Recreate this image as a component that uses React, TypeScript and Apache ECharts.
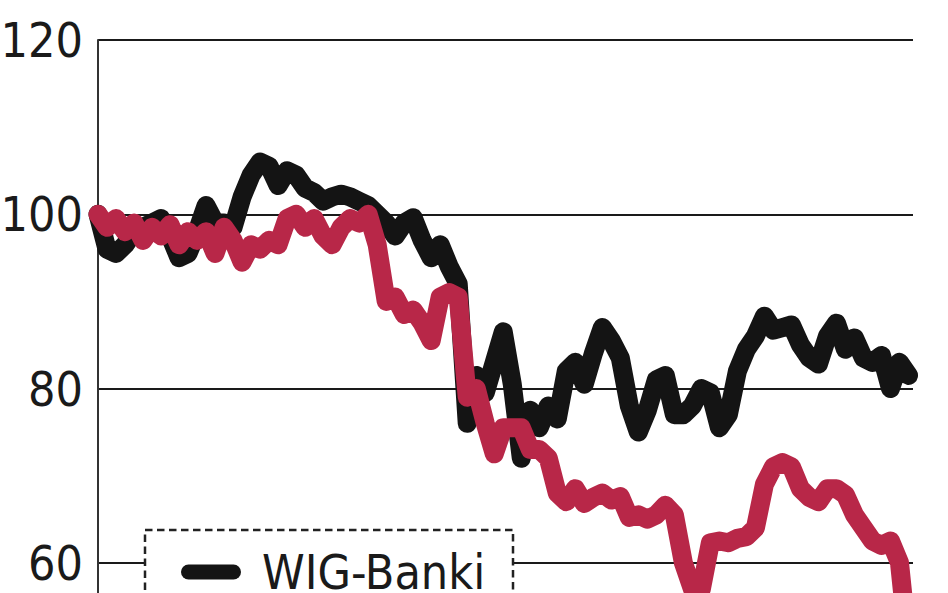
import React, { useEffect, useRef } from "react";
import * as echarts from "echarts";

const yTicks = [40, 60, 80, 100, 120];

const wigBanki = [
  100, 96, 95.5, 96.5, 98, 98.5, 99, 99.5, 97.5, 95,
  95.5, 98, 101, 99, 99, 98.5, 102, 104.5, 106, 105.5,
  103.3, 105, 104.5, 103, 102.5, 101.5, 102, 102.3, 102, 101.5,
  101, 100, 99, 97.5, 99, 99.6, 97, 95, 96.5, 94,
  92, 76, 81.5, 79.5, 83, 86.5, 80.5, 72, 77.5, 75.5,
  78, 76.5, 82, 83, 80.5, 84, 87, 85.5, 83.5, 78,
  75, 77.5, 81, 81.5, 77, 77, 78, 80, 79.5, 75.5,
  77, 82, 84.5, 86, 88.3, 86.7, 87, 87.3, 85, 83.5,
  82.8, 86, 87.5, 84.5, 85.8, 83.5, 83, 83.8, 80, 83,
  81.5,
];

const bank = [
  100, 98.5, 99.5, 98, 99, 97, 98.5, 97.5, 98.8, 96.5,
  98, 97, 98, 95.5, 98.5, 97, 94.5, 96.5, 96, 97,
  96.5, 99.5, 100, 98.5, 99.5, 97.5, 96.5, 98.5, 99.5, 99,
  100, 96.5, 90, 90.5, 88.5, 89, 87.5, 85.5, 90.5, 91,
  90.5, 79, 80, 76, 72.5, 75.5, 75.5, 75.5, 73, 73,
  72, 68, 67, 68.5, 66.8, 67.5, 68, 67.2, 67.6, 65.2,
  65.5, 65, 65.5, 66.6, 65.5, 60, 57, 57, 62.3, 62.5,
  62.3, 62.8, 63, 64, 69, 71, 71.5, 71, 68.5, 67.5,
  67, 68.5, 68.5, 67.8, 65.5, 64, 62.5, 62, 62.5, 60,
  50,
];

const days = wigBanki.map((_, i) => i);

const FONT = "'Liberation Sans Narrow', 'DejaVu Sans Condensed', sans-serif";

export default function App() {
  const ref = useRef<HTMLDivElement>(null);

  useEffect(() => {
    if (!ref.current) return;
    const chart = echarts.init(ref.current, null, { renderer: "svg" });
    chart.setOption({
      animation: false,
      backgroundColor: "#ffffff",
      grid: {
        left: 98,
        right: 35,
        top: 40,
        bottom: 63,
        containLabel: false,
        outerBoundsMode: "none",
      },
      xAxis: {
        type: "value",
        min: 0,
        max: 90.5,
        show: false,
      },
      yAxis: {
        type: "value",
        min: yTicks[0],
        max: yTicks[yTicks.length - 1],
        interval: 20,
        axisLine: { show: true, lineStyle: { color: "#333333", width: 2 } },
        axisTick: { show: false },
        splitLine: { show: true, lineStyle: { color: "#1a1a1a", width: 2 } },
        axisLabel: {
          fontSize: 48,
          fontFamily: FONT,
          color: "#1a1a1a",
          margin: 15,
          padding: [0, 0, 8, 0],
        },
      },
      legend: {
        show: true,
        data: ["WIG-Banki"],
        left: 181,
        top: 548,
        orient: "vertical",
        padding: 0,
        itemWidth: 60,
        itemHeight: 15,
        icon: "path://M7.5,0 H52.5 A7.5,7.5 0 0 1 52.5,15 H7.5 A7.5,7.5 0 0 1 7.5,0 Z",
        textStyle: {
          fontSize: 48,
          fontFamily: FONT,
          color: "#1a1a1a",
          padding: [0, 0, 0, 16],
        },
        z: 5,
      },
      graphic: [
        {
          type: "rect",
          z: 3,
          shape: { x: 145, y: 530, width: 368, height: 220 },
          style: {
            fill: "#ffffff",
            stroke: "#222222",
            lineWidth: 2.5,
            lineDash: [7.5, 4.5],
          },
        },
      ],
      series: [
        {
          name: "WIG-Banki",
          type: "line",
          data: days.map((d, i) => [d, wigBanki[i]]),
          showSymbol: false,
          symbol: "none",
          lineStyle: { color: "#141414", width: 19, cap: "round", join: "round" },
          itemStyle: { color: "#141414" },
          z: 2,
        },
        {
          name: "Bank",
          type: "line",
          data: days.map((d, i) => [d, bank[i]]),
          showSymbol: false,
          symbol: "none",
          lineStyle: { color: "#b82748", width: 19, cap: "round", join: "round" },
          itemStyle: { color: "#b82748" },
          z: 2,
        },
      ],
    });
    return () => chart.dispose();
  }, []);

  return (
    <div
      style={{
        position: "absolute",
        left: 0,
        top: 0,
        width: 948,
        height: 593,
        overflow: "hidden",
        background: "#ffffff",
      }}
    >
      <div ref={ref} style={{ width: 948, height: 800 }} />
    </div>
  );
}
